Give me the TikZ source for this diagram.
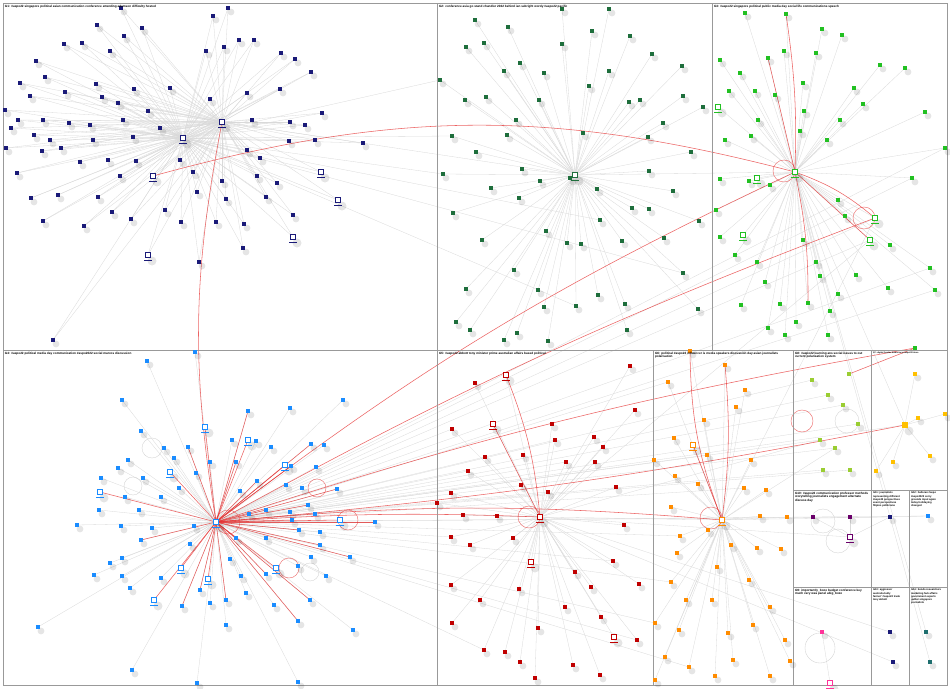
\documentclass[tikz,border=0pt]{standalone}
\usepackage{fontspec}
\setmainfont{Liberation Sans}
\usetikzlibrary{calc}
\definecolor{cG1}{HTML}{1A1A78}
\definecolor{cG2}{HTML}{1E6E3C}
\definecolor{cG3}{HTML}{22C022}
\definecolor{cG4}{HTML}{1A8CFF}
\definecolor{cG5}{HTML}{C00000}
\definecolor{cG6}{HTML}{FF8C00}
\definecolor{cG7}{HTML}{FFC000}
\definecolor{cG8}{HTML}{9ACD32}
\definecolor{cG10}{HTML}{6A006A}
\definecolor{cG9}{HTML}{FF3399}
\definecolor{cG14}{HTML}{1E6E6E}
\definecolor{redl}{HTML}{E63030}
\tikzset{
  vtx/.style={draw=none, fill=#1, minimum size=3.4pt, inner sep=0pt, rectangle},
  hl/.style={draw=#1, fill=white, line width=1.1pt, minimum size=5.2pt, inner sep=0pt, rectangle},
  lnk/.style={draw=black!15, line width=0.3pt},
  redge/.style={draw=redl, line width=0.55pt, opacity=0.75},
  rloop/.style={draw=redl, line width=0.45pt, opacity=0.7},
  gloop/.style={draw=black!18, line width=0.35pt},
  shadowc/.style={fill=black, opacity=0.10},
  box/.style={draw=black!40, line width=0.6pt},
  gl/.style={anchor=north west, font=\fontsize{3.1}{3.7}\selectfont\bfseries, inner sep=0.8pt, align=left},
  gls/.style={anchor=north west, font=\fontsize{2.6}{3.2}\selectfont\bfseries, inner sep=0.8pt, align=left},
  glt/.style={anchor=north west, font=\fontsize{2.1}{2.6}\selectfont\bfseries, inner sep=0.8pt, align=left}
}
% vertex lists
\def\LA{121/8, 228/8, 213/16, 97/25, 124/36, 142/28, 239/40, 224/47, 254/40, 64/44, 82/43, 110/51, 206/51, 281/53, 295/59, 311/72, 36/61, 45/77, 96/84, 20/83, 65/92, 134/89, 170/88, 5/110, 30/96, 102/97, 118/103, 247/93, 210/99, 280/89, 322/113, 18/120, 43/120, 69/123, 90/125, 123/120, 148/111, 160/128, 252/120, 290/122, 305/125, 11/128, 34/135, 50/140, 61/148, 6/148, 93/140, 133/137, 247/150, 260/158, 289/141, 315/140, 363/143, 42/151, 17/173, 80/162, 108/160, 136/161, 120/176, 193/172, 222/181, 257/176, 277/183, 98/197, 31/198, 58/195, 197/192, 226/199, 266/197, 112/212, 131/219, 165/210, 43/221, 84/226, 181/222, 216/222, 244/224, 293/215, 199/262, 243/248, 53/340, 180/160}
\def\LB{562/9, 609/9, 508/27, 475/20, 592/31, 630/36, 484/43, 466/47, 562/44, 520/63, 652/54, 504/71, 544/73, 609/71, 682/66, 440/80, 589/86, 683/96, 486/97, 629/102, 465/100, 539/100, 703/107, 516/120, 663/123, 452/136, 507/135, 583/133, 648/137, 476/152, 691/152, 522/169, 649/171, 443/174, 491/188, 540/181, 597/189, 673/191, 632/208, 649/209, 519/198, 453/213, 600/220, 699/221, 546/231, 482/240, 664/238, 622/241, 581/244, 567/243, 514/270, 683/273, 538/290, 466/289, 598/295, 625/304, 576/306, 544/307, 470/330, 517/333, 548/341, 627/330, 504/340, 698/309, 456/322, 640/100, 570/178}
\def\LC{745/13, 786/14, 822/29, 842/35, 768/58, 720/60, 816/53, 784/51, 905/68, 740/73, 880/65, 803/83, 854/88, 755/91, 775/95, 729/91, 758/120, 804/111, 840/120, 863/104, 925/112, 751/136, 725/140, 800/131, 827/140, 749/181, 720/179, 912/178, 716/210, 770/185, 838/200, 720/237, 735/255, 803/240, 845/216, 816/262, 757/262, 890/245, 930/268, 765/282, 820/276, 856/275, 838/294, 808/303, 780/304, 741/305, 796/322, 785/335, 768/328, 828/335, 830/311, 888/288, 935/290, 945/148}
\def\LD{195/352, 147/361, 343/400, 122/400, 290/408, 248/411, 141/431, 232/440, 188/447, 164/448, 271/447, 256/441, 311/444, 324/445, 174/458, 210/462, 236/462, 128/460, 118/468, 291/466, 316/467, 101/478, 143/478, 196/473, 257/481, 286/485, 302/488, 337/489, 125/497, 161/497, 179/488, 240/491, 308/505, 139/510, 99/510, 266/510, 290/512, 315/514, 375/522, 77/525, 194/526, 249/514, 292/520, 121/526, 152/528, 299/530, 320/532, 190/544, 141/540, 236/538, 266/538, 320/545, 122/558, 230/559, 298/566, 311/557, 350/557, 94/575, 122/576, 161/578, 200/590, 241/576, 266/574, 326/576, 182/606, 210/603, 226/600, 274/605, 310/600, 246/593, 226/625, 298/621, 353/630, 38/627, 132/670, 197/683, 298/682, 130/588, 110/563}
\def\LE{475/383, 452/429, 552/424, 523/455, 468/471, 485/457, 594/437, 595/462, 566/462, 603/447, 521/485, 616/487, 451/493, 548/492, 437/503, 463/515, 497/516, 513/538, 624/525, 451/537, 470/545, 575/572, 519/589, 591/587, 451/585, 613/561, 639/584, 601/617, 565/607, 538/628, 452/623, 505/652, 484/650, 520/662, 573/665, 535/678, 600/675, 637/640, 635/410, 630/366, 555/440, 480/600}
\def\LF{690/351, 725/365, 668/382, 745/390, 736/407, 674/438, 704/420, 707/455, 654/460, 751/460, 675/476, 698/484, 744/488, 766/490, 671/507, 708/530, 760/516, 787/517, 680/536, 677/553, 731/545, 757/548, 781/549, 671/582, 717/567, 749/580, 686/600, 712/600, 770/607, 655/623, 679/630, 728/633, 753/625, 785/640, 665/657, 689/667, 733/660, 715/676, 770/676, 790/661, 655/680}
\def\LG{915/374, 945/414, 893/462, 876/471, 930/456, 918/418}
\def\LK{843/405, 858/424, 835/448, 823/470, 820/440, 812/380, 850/470, 828/395}
\def\LM{813/517, 850/517}
\def\LN{890/517}
\def\LO{928/516}
\def\LV{822/632}
\def\LW{890/632, 893/662}
\def\LZ{926/632, 930/662}
% pass 1: coordinates
\newcommand\grpc[2]{\foreach \x/\y [count=\i] in #2 {\coordinate (#1\i) at (\x,\y);}}
% pass 2: edges + shadows
\newcommand\grpe[3]{\foreach \x/\y [count=\i] in #3 {%
  \foreach \h in {#2} {\draw[lnk] (\h) -- (#1\i);}}}
\newcommand\grps[1]{\foreach \x/\y in #1 {\fill[shadowc] (\x+3,\y+4) circle (3.4);}}
% pass 3: vertices
\newcommand\grpn[3]{\foreach \x/\y [count=\i] in #3 {\node[vtx=#2] (V#1\i) at (#1\i) {};}}
\newcommand\hln[2]{\node[hl=#2] (V#1) at (#1) {};
  \draw[#2, line width=1.1pt] ($(#1)+(-4,5.2)$) -- ($(#1)+(4,5.2)$);}
\newcommand\hls[1]{\fill[shadowc] ($(#1)+(4,6)$) circle (4.5);}
\begin{document}
\begin{tikzpicture}[x=1pt,y=-1pt]
\useasboundingbox (0,0) rectangle (950,688);
\fill[white] (0,0) rectangle (950,688);
% ---------- coordinates ----------
\coordinate (h1a) at (183,138); \coordinate (h1b) at (222,122);
\coordinate (h2) at (575,175); \coordinate (h3) at (795,172);
\coordinate (h4) at (216,522); \coordinate (h5) at (540,517);
\coordinate (h6) at (722,520); \coordinate (h7) at (905,425);
\coordinate (p1) at (153,176); \coordinate (p2) at (321,172); \coordinate (p3) at (338,200);
\coordinate (p4) at (293,237); \coordinate (p5) at (148,255);
\coordinate (q1) at (718,107); \coordinate (q2) at (757,178); \coordinate (q3) at (875,218);
\coordinate (q4) at (870,240); \coordinate (q5) at (743,235);
\coordinate (r1) at (205,427); \coordinate (r2) at (248,440); \coordinate (r3) at (285,465);
\coordinate (r4) at (100,492); \coordinate (r5) at (181,568); \coordinate (r6) at (208,579);
\coordinate (r7) at (154,600); \coordinate (r8) at (276,568); \coordinate (r9) at (340,520);
\coordinate (r10) at (170,472);
\coordinate (s1) at (506,375); \coordinate (s2) at (493,424); \coordinate (s3) at (531,562);
\coordinate (s4) at (614,637);
\coordinate (t1) at (693,445);
\coordinate (u1) at (850,537); \coordinate (u2) at (830,683);
\coordinate (n7top) at (915,348); \coordinate (n8a) at (849,374);
\grpc{a}{\LA}\grpc{b}{\LB}\grpc{c}{\LC}\grpc{d}{\LD}\grpc{e}{\LE}\grpc{f}{\LF}
\grpc{g}{\LG}\grpc{k}{\LK}\grpc{m}{\LM}\grpc{n}{\LN}\grpc{o}{\LO}\grpc{v}{\LV}
\grpc{w}{\LW}\grpc{z}{\LZ}
% ---------- grey edges ----------
\grpe{a}{h1a,h1b}{\LA}\grpe{b}{h2}{\LB}\grpe{c}{h3}{\LC}\grpe{d}{h4}{\LD}
\grpe{e}{h5}{\LE}\grpe{f}{h6}{\LF}\grpe{g}{h7}{\LG}\grpe{k}{h4}{\LK}
\grpe{m}{u1}{\LM}\grpe{n}{u1}{\LN}\grpe{o}{h6}{\LO}\grpe{v}{u2}{\LV}
\grpe{w}{h5}{\LW}\grpe{z}{h3}{\LZ}
\foreach \a in {p1,p2,p3,p4,p5} {\draw[lnk] (h1a) -- (\a); \draw[lnk] (h1b) -- (\a);}
\foreach \a in {q1,q2,q3,q4,q5} {\draw[lnk] (h3) -- (\a);}
\foreach \a in {s1,s2,s3,s4} {\draw[lnk] (h5) -- (\a);}
\draw[lnk] (h6) -- (t1);
\draw[lnk] (h1a) -- (h1b);
\foreach \j in {2,5,9,14,20,26,33,38,41} {\draw[lnk] (h4) -- (e\j);}
\foreach \j in {3,8,13,19,24,30,36} {\draw[lnk] (h4) -- (f\j);}
\foreach \j in {16,26,34,43,52,57} {\draw[lnk] (h1a) -- (b\j);}
\foreach \j in {54,28,39,53} {\draw[lnk] (h4) -- (c\j);}
\draw[lnk] (h2) -- (h3);
\draw[lnk] (h1b) -- (h2);
\draw[lnk] (q3) -- (h4); \draw[lnk] (q4) -- (h4); \draw[lnk] (q4) -- (h5); \draw[lnk] (q3) -- (h6);
\draw[lnk] (h3) -- (h7); \draw[lnk] (h4) -- (h7); \draw[lnk] (h5) -- (h6);
\draw[lnk] (h5) -- (u1); \draw[lnk] (h4) -- (n1); \draw[lnk] (h4) -- (o1);
\draw[lnk] (h6) -- (k3); \draw[lnk] (h5) -- (k5);
% ---------- red edges ----------
\draw[redge] (p1) to[bend left=15] (h3);
\draw[redge] (h1b) to[bend right=10] (h4);
\draw[redge] (h4) to[bend left=6] (h3);
\draw[redge] (h4) to[bend left=4] (q3);
\draw[redge] (h4) to[bend left=4] (n7top);
\draw[redge] (n8a) -- (n7top);
\draw[redge] (h4) to[bend left=3] (h5);
\draw[redge] (h4) to[bend left=5] (h6);
\draw[redge] (h4) to[bend right=3] (h7);
\draw[redge] (s1) to[bend left=8] (h5);
\draw[redge] (s2) -- (h5);
\draw[redge] (h6) to[bend left=10] (f1);
\draw[redge] (h6) to[bend right=6] (f2);
\draw[redge] (t1) -- (h6);
\draw[redge] (h3) to[bend right=5] (c2);
\draw[redge] (h3) -- (c5);
\draw[redge] (h3) to[bend left=6] (c44);
\draw[redge] (h3) -- (q4);
\draw[redge] (h3) to[bend left=10] (q3);
\foreach \a in {r1,r2,r3,r4,r5,r6,r7,r8,r9,r10} {\draw[redge] (h4) -- (\a);}
\foreach \j in {6,9,13,17,20,25,28,33,36,39,43,46,49,50,52,57,61,63,65,67,69,72} {\draw[redge] (h4) -- (d\j);}
% ---------- self loops ----------
\draw[rloop] (h4) ++(12,0) circle (12);
\draw[rloop] (r9) ++(8,0) circle (10);
\draw[rloop] (r8) ++(13,0) circle (10);
\draw[rloop] (d27) ++(15,0) circle (9);
\draw[rloop] (h5) ++(-11,0) circle (11);
\draw[rloop] (h6) ++(-11,-2) circle (11);
\draw[rloop] (h3) ++(-11,-1) circle (11);
\draw[rloop] (q3) ++(-11,0) circle (11);
\draw[rloop] (k5) ++(-18,-19) circle (11);
\draw[gloop] (k1) ++(4,16) circle (12);
\draw[gloop] (d10) ++(-12,0) circle (10);
\draw[gloop] (d23) ++(-10,8) circle (9);
\draw[gloop] (d55) ++(12,6) circle (9);
\draw[gloop] (u1) ++(-12,4) circle (12);
\draw[gloop] (m1) ++(10,4) circle (12);
\draw[gloop] (v1) ++(-2,16) circle (15);
% ---------- group boxes ----------
\draw[box] (3,3) rectangle (947,685);
\draw[box] (3,350) -- (947,350);
\draw[box] (437,3) -- (437,685);
\draw[box] (712,3) -- (712,350);
\draw[box] (653,350) -- (653,685);
\draw[box] (793,350) -- (793,685);
\draw[box] (871,350) -- (871,685);
\draw[box] (793,490) -- (947,490);
\draw[box] (793,587) -- (947,587);
\draw[box] (909,490) -- (909,685);
% ---------- shadows ----------
\grps{\LA}\grps{\LB}\grps{\LC}\grps{\LD}\grps{\LE}\grps{\LF}\grps{\LG}\grps{\LK}
\grps{\LM}\grps{\LN}\grps{\LO}\grps{\LV}\grps{\LW}\grps{\LZ}
\foreach \a in {h1a,h1b,h2,h3,h4,h5,h6,h7,p1,p2,p3,p4,p5,q1,q2,q3,q4,q5,r1,r2,r3,r4,r5,r6,r7,r8,r9,r10,s1,s2,s3,s4,t1,u1,u2} {\hls{\a}}
% ---------- vertices ----------
\grpn{a}{cG1}{\LA}\grpn{b}{cG2}{\LB}\grpn{c}{cG3}{\LC}\grpn{d}{cG4}{\LD}
\grpn{e}{cG5}{\LE}\grpn{f}{cG6}{\LF}\grpn{g}{cG7}{\LG}\grpn{k}{cG8}{\LK}
\grpn{m}{cG10}{\LM}\grpn{n}{cG1}{\LN}\grpn{o}{cG4}{\LO}\grpn{v}{cG9}{\LV}
\grpn{w}{cG1}{\LW}\grpn{z}{cG14}{\LZ}
\foreach \a in {h1a,h1b,p1,p2,p3,p4,p5} {\hln{\a}{cG1}}
\hln{h2}{cG2}
\foreach \a in {h3,q1,q2,q3,q4,q5} {\hln{\a}{cG3}}
\foreach \a in {h4,r1,r2,r3,r4,r5,r6,r7,r8,r9,r10} {\hln{\a}{cG4}}
\foreach \a in {h5,s1,s2,s3,s4} {\hln{\a}{cG5}}
\foreach \a in {h6,t1} {\hln{\a}{cG6}}
\node[vtx=cG7, minimum size=5.5pt] (Vh7) at (h7) {};
\hln{u1}{cG10}
\hln{u2}{cG9}
\node[vtx=cG3] (Vn7top) at (n7top) {};
\node[vtx=cG8] (Vn8a) at (n8a) {};
% ---------- labels ----------
\node[gl] (lab1) at (4,4) {G1: \#aspo22 singapore political asian communication conference attending adamson difficulty hosted};
\node[gl] (lab2) at (438,4) {G2: conference asia go stand chandler 2022 behind ian sebright wordy \#aspo22 pacific};
\node[gl] (lab3) at (713,4) {G3: \#aspo22 singapore political public media day social life communications speech};
\node[gl] (lab4) at (4,351) {G4: \#aspo22 political media day communication \#aspo2022 social marcos discussion};
\node[gl] (lab5) at (438,351) {G5: \#aspo22 abbott tony minister prime australian affairs based political};
\node[gl] (lab6) at (654,351) {G6: political \#aspo22 influencer is media speakers discussion day asian journalists\\polarisation};
\node[gl] (lab8) at (794,351) {G8: \#aspo22 learning ans social issues to out\\current polarisation system};
\node[glt] (lab7) at (872,351) {G7: digital frontier democracy \#aspo22 future};
\node[gl] (lab10) at (794,491) {G10: \#aspo22 communication professor methods\\storytelling journalists engagement alternate\\discuss day};
\node[gls] (lab11) at (872,491) {G11: journalists\\representing different\\\#aspo22 perspectives\\event perspectives\\filipino politicians};
\node[gls] (lab12) at (910,491) {G12: halloran \#aspo\\\#aspo2022 sorry\\grounds input again\\today holidaying\\changed};
\node[gl] (lab9) at (794,588) {G9: importantly\_bozo budget conference key\\much very was panel abig\_bozo};
\node[gls] (lab13) at (872,588) {G13: aggressor\\australia bully\\farmer' \#aspo22 trade\\tony abbott};
\node[gls] (lab14) at (910,588) {G14: bondo researchers\\marketing hub affairs\\government experts\\gather singapore\\journalists};
\end{tikzpicture}
\end{document}
